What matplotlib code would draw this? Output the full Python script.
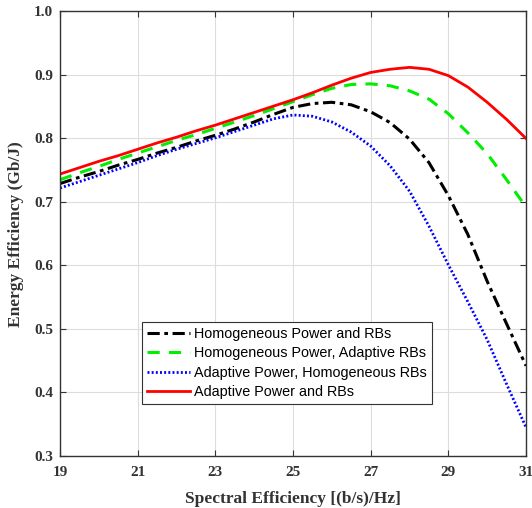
import matplotlib
matplotlib.use("Agg")
import matplotlib.pyplot as plt

# spectral efficiency grid
se = [19, 19.5, 20, 20.5, 21, 21.5, 22, 22.5, 23, 23.5, 24, 24.5, 25,
      25.5, 26, 26.5, 27, 27.5, 28, 28.5, 29, 29.5, 30, 30.5, 31]

ee_homog = [0.729, 0.739, 0.748, 0.758, 0.767, 0.777, 0.786, 0.796, 0.805,
            0.815, 0.826, 0.838, 0.849, 0.855, 0.857, 0.853, 0.842, 0.825,
            0.799, 0.762, 0.710, 0.649, 0.575, 0.508, 0.442]
ee_adapt_rb = [0.735, 0.746, 0.756, 0.767, 0.777, 0.787, 0.797, 0.806, 0.816,
               0.826, 0.836, 0.847, 0.858, 0.869, 0.879, 0.885, 0.886, 0.883,
               0.875, 0.862, 0.839, 0.809, 0.776, 0.735, 0.692]
ee_adapt_pw = [0.722, 0.732, 0.742, 0.752, 0.762, 0.773, 0.783, 0.792, 0.801,
               0.811, 0.821, 0.831, 0.837, 0.835, 0.826, 0.810, 0.788, 0.757,
               0.717, 0.662, 0.601, 0.543, 0.483, 0.413, 0.345]
ee_adapt_both = [0.744, 0.754, 0.764, 0.773, 0.783, 0.793, 0.802, 0.812, 0.821,
                 0.831, 0.841, 0.851, 0.861, 0.872, 0.884, 0.895, 0.904, 0.909,
                 0.912, 0.909, 0.899, 0.881, 0.857, 0.830, 0.800]

labels = ["Homogeneous Power and RBs",
          "Homogeneous Power, Adaptive RBs",
          "Adaptive Power, Homogeneous RBs",
          "Adaptive Power and RBs"]

fig = plt.figure(figsize=(5.32, 5.08), dpi=100)
ax = fig.add_axes([0.1128, 0.1024, 0.876, 0.875])

ax.plot(se, ee_homog, color="black", lw=2.2, linestyle=(0, (4, 1.5, 1.2, 1.5)), label=labels[0])
ax.plot(se, ee_adapt_rb, color="#00ee00", lw=2.2, linestyle=(0, (4, 3)), label=labels[1])
ax.plot(se, ee_adapt_pw, color="blue", lw=2.0, linestyle=(0, (0.7, 0.8)), label=labels[2])
ax.plot(se, ee_adapt_both, color="red", lw=2.0, linestyle="-", label=labels[3])

ax.set_xlim(19, 31)
ax.set_ylim(0.3, 1.0)
ax.set_xticks([19, 21, 23, 25, 27, 29, 31])
ax.set_yticks([0.3, 0.4, 0.5, 0.6, 0.7, 0.8, 0.9, 1.0])
ax.set_yticklabels(["0.3", "0.4", "0.5", "0.6", "0.7", "0.8", "0.9", "1.0"])
ax.grid(True, color="#dddddd", lw=0.8)
ax.set_axisbelow(True)
ax.tick_params(direction="in", top=True, right=True, length=4, colors="#333333",
               labelsize=11)
ax.tick_params(axis="x", pad=7)
ax.tick_params(axis="y", pad=5)
for lab in ax.get_xticklabels() + ax.get_yticklabels():
    lab.set_family("Liberation Serif")
    lab.set_weight("bold")
    lab.set_color("#333333")
for sp in ax.spines.values():
    sp.set_color("#333333")
    sp.set_linewidth(1.0)

ax.set_xlabel("Spectral Efficiency [(b/s)/Hz]", family="Liberation Serif",
              weight="bold", fontsize=12.5, color="#333333", labelpad=9)
ax.set_ylabel("Energy Efficiency (Gb/J)", family="Liberation Serif",
              weight="bold", fontsize=12.5, color="#333333", labelpad=7)

leg = ax.legend(loc="lower left", bbox_to_anchor=(0.175, 0.116), borderaxespad=0,
                prop={"family": "Liberation Sans", "size": 10.4},
                handlelength=3.0, handletextpad=0.3, labelspacing=0.38,
                borderpad=0.35, fancybox=False, framealpha=1)
leg.get_frame().set_edgecolor("#333333")
leg.get_frame().set_linewidth(0.8)

fig.savefig("out.png", dpi=100)
